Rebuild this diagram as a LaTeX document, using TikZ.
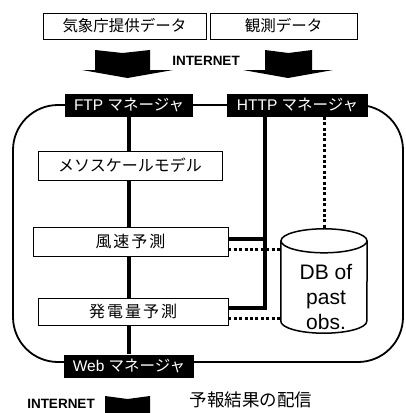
\documentclass[tikz,border=0pt]{standalone}
\usepackage{fontspec}
\setmainfont{Liberation Sans}
\newfontfamily\jp{Noto Sans CJK JP}
\usetikzlibrary{backgrounds}

\begin{document}
\begin{tikzpicture}[x=1pt,y=-1pt]
\tikzset{src box/.style={draw, line width=0.8pt, inner sep=0pt, minimum height=26pt, font=\jp\fontsize{15.5}{15.5}\selectfont}}
\tikzset{mgr box/.style={fill=black, text=white, inner sep=0pt, minimum height=23pt, font=\fontsize{15.5}{15.5}\selectfont}}
\tikzset{proc box/.style={draw, fill=white, line width=0.8pt, inner sep=0pt, font=\jp\fontsize{16}{16}\selectfont}}
\tikzset{solid link/.style={line width=3.5pt}}
\tikzset{dot link/.style={line width=3pt, dash pattern=on 3pt off 2.4pt}}
\tikzset{big arrow/.style={fill=black}}
\tikzset{net label/.style={font=\bfseries\fontsize{13.5}{13.5}\selectfont}}
\tikzset{db line/.style={line width=1.5pt}}
\useasboundingbox (0,0) rectangle (405,413);

% data sources
\node[src box, minimum width=163pt] (jma) at (124.5,26) {気象庁提供データ};
\node[src box, minimum width=147pt] (obs) at (283.5,26) {観測データ};
\node[net label] (net1) at (206,61) {INTERNET};
\fill[big arrow] (95,50) -- (122.5,53) -- (150,50) -- (150,70) -- (173,70) -- (127.5,78) -- (82,70) -- (95,70) -- cycle;
\fill[big arrow] (265,50) -- (288.5,53) -- (312,50) -- (312,70) -- (333,70) -- (288,78) -- (243,70) -- (265,70) -- cycle;

% managers
\node[mgr box, minimum width=128pt] (ftp) at (129,105) {FTP {\jp マネージャ}};
\node[mgr box, minimum width=141pt] (http) at (297.5,105) {HTTP {\jp マネージャ}};
\node[mgr box, minimum width=130pt] (web) at (129,366) {Web {\jp マネージャ}};

% processing
\node[proc box, minimum width=184pt, minimum height=29pt] (meso) at (130,165.5) {メソスケールモデル};
\node[proc box, minimum width=195pt, minimum height=29pt] (wind) at (130.5,241.5) {風\kern2pt 速\kern2pt 予\kern2pt 測};
\node[proc box, minimum width=190pt, minimum height=27pt] (power) at (133,311.5) {発\kern2pt 電\kern2pt 量\kern2pt 予\kern2pt 測};

% database
\node[minimum width=86pt, minimum height=104pt, inner sep=0pt] (db) at (324,281) {};
\draw[db line] ([yshift=-12pt]db.north west) -- ([yshift=12pt]db.south west)
  arc[start angle=180, end angle=360, x radius=43pt, y radius=12pt] -- ([yshift=-12pt]db.north east);
\draw[db line] ([yshift=-12pt]db.north) ellipse[x radius=43pt, y radius=12pt];
\node[align=center, inner sep=0pt, font=\fontsize{21}{25}\selectfont] (dbtext) at (326,297) {DB of\\past\\obs.};

\begin{scope}[on background layer]
\draw[line width=1.8pt, rounded corners=45pt] (13,105) rectangle (403,362);
\draw[solid link] (ftp.south) -- (web.north);
\coordinate (hbend) at (265,308);
\draw[solid link] (http.south -| hbend) -- (hbend) -- (hbend -| power.east);
\coordinate (wsol) at ([yshift=2.5pt]wind.east);
\draw[solid link] (wsol) -- (wsol -| hbend);
\coordinate (wdot) at ([yshift=-7.5pt]wind.east);
\draw[dot link] (wdot) -- (wdot -| db.west);
\coordinate (pdot) at ([yshift=-6.5pt]power.east);
\draw[dot link] (pdot) -- (pdot -| db.west);
\draw[dot link] (db.north |- http.south) -- (db.north);
\end{scope}

% output
\node[net label] (net2) at (61,404) {INTERNET};
\fill[big arrow] (105,396) -- (127.5,399) -- (150,396) -- (150,413) -- (105,413) -- cycle;
\node[font=\jp\fontsize{17.5}{17.5}\selectfont] (out) at (251,400) {予報結果の配信};
\end{tikzpicture}
\end{document}
